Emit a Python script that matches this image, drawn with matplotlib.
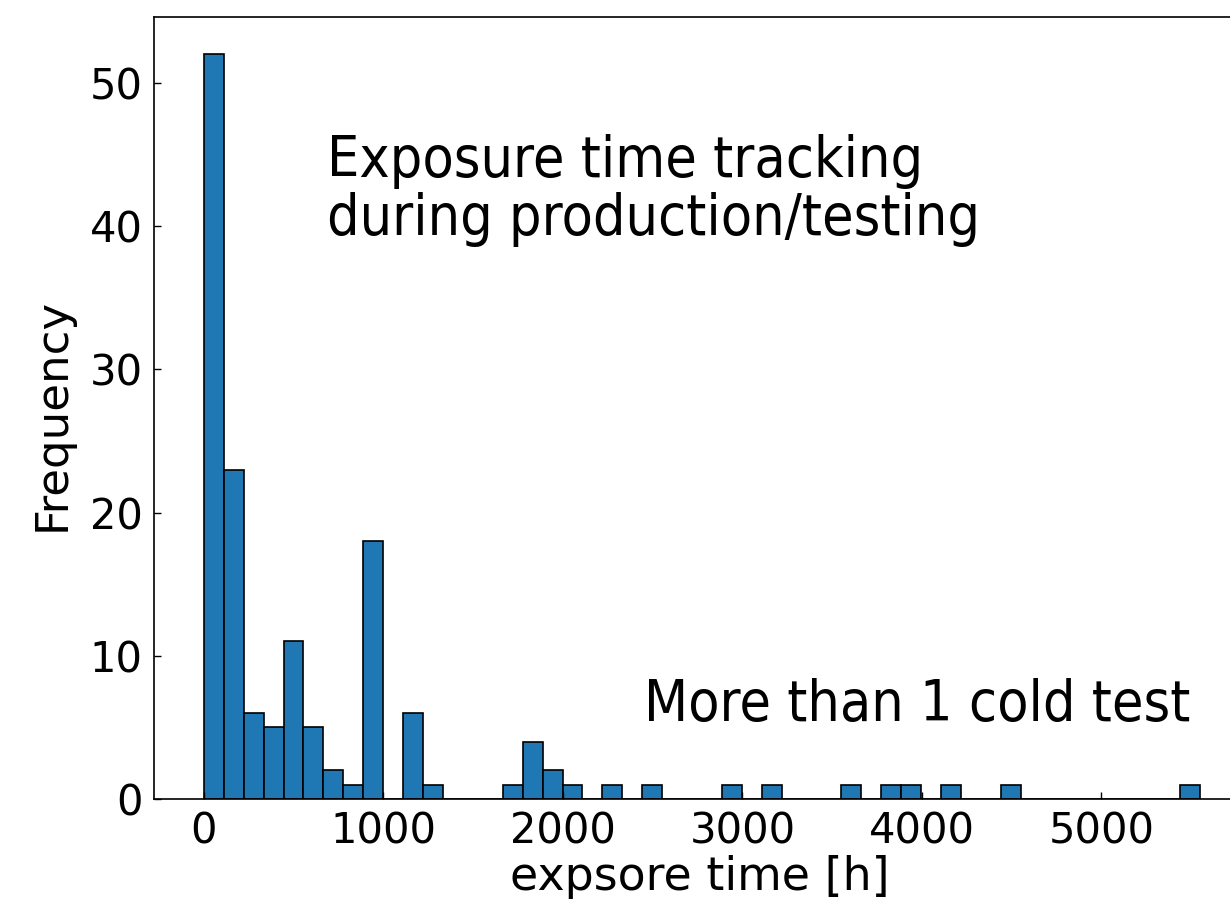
import numpy as np
import matplotlib
matplotlib.use("Agg")
import matplotlib.pyplot as plt

# histogram counts, 50 equal bins between 0 and ~5550 h
counts = [52, 23, 6, 5, 11, 5, 2, 1, 18, 0,
          6, 1, 0, 0, 0, 1, 4, 2, 1, 0,
          1, 0, 1, 0, 0, 0, 1, 0, 1, 0,
          0, 0, 1, 0, 1, 1, 0, 1, 0, 0,
          1, 0, 0, 0, 0, 0, 0, 0, 0, 1]
t_min, t_max = 0, 5550
xlabel = "expsore time [h]"
ylabel = "Frequency"
note_top = "Exposure time tracking\nduring production/testing"
note_bottom = "More than 1 cold test"

edges = np.linspace(t_min, t_max, len(counts) + 1)

W, H = 1230, 899
fig = plt.figure(figsize=(W / 100, H / 100), dpi=100)
# axes run past the right border of the picture (the original is cropped)
ax = fig.add_axes([154 / W, (H - 799) / H, 1096 / W, 782 / H])

ax.hist(edges[:-1], bins=edges, weights=counts, color="#1f77b4",
        edgecolor="black", linewidth=1.2)

ax.set_yticks([0, 10, 20, 30, 40, 50])
ax.set_xticks([0, 1000, 2000, 3000, 4000, 5000])
ax.tick_params(direction="in", length=5, width=1, labelsize=30, pad=8,
               top=False, right=False)
for s in ax.spines.values():
    s.set_linewidth(1.2)

ax.set_xlabel(xlabel, fontsize=33)
ax.set_ylabel(ylabel, fontsize=32.5)
ax.xaxis.set_label_coords((700 - 154) / 1096, -(877 - 799) / 782)
ax.yaxis.set_label_coords(-(154 - 52) / 1096, (799 - 414) / 782)
ax.xaxis.label.set_va("center")
ax.yaxis.label.set_va("center")

fig.text(327 / W, 1 - 134 / H, note_top, fontsize=41, va="top", ha="left",
         stretch="condensed", linespacing=1.08)
fig.text(1190 / W, 1 - 705 / H, note_bottom, fontsize=41, va="center",
         ha="right", stretch="condensed")

fig.savefig("out.png", dpi=100)
